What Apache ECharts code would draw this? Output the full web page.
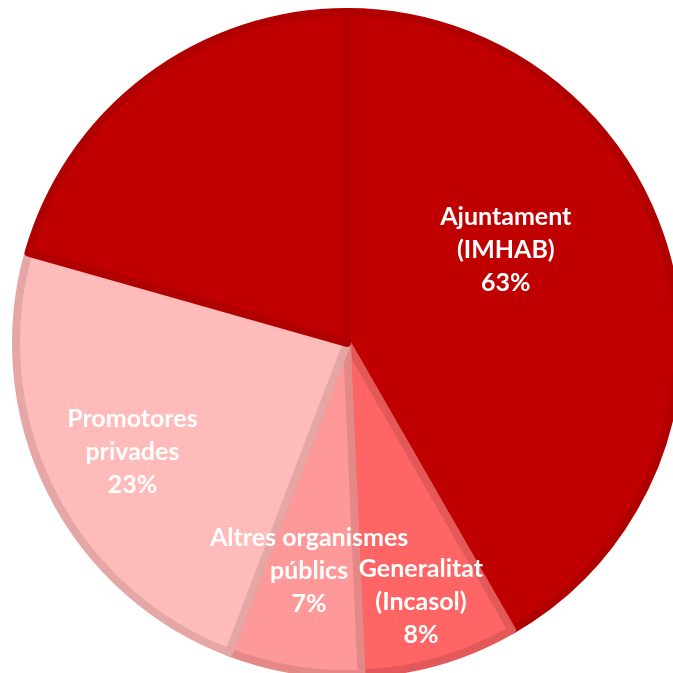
<!DOCTYPE html>
<html>
<head>
<meta charset="utf-8">
<script src="https://cdn.jsdelivr.net/npm/echarts@6/dist/echarts.min.js"></script>
<style>
  html, body { margin: 0; padding: 0; background: #fff; }
</style>
</head>
<body>
<div id="main" style="width:673px;height:673px;"></div>
<script>
// categories, clockwise from 12 o'clock (last one is the rest of Ajuntament, unlabelled)
var categories = ['Ajuntament\n(IMHAB)', 'Generalitat\n(Incasol)', 'Altres organismes\npúblics', 'Promotores\nprivades', ''];
// slice sizes
var values = [41.7, 7.6, 6.5, 23.6, 20.6];
// percentages printed on the labels
var shares = [63, 8, 7, 23, null];

var fills   = ['#c00000', '#ff6565', '#ff9999', '#ffbaba', '#c00000'];
var borders = ['#b00000', '#e35858', '#e48888', '#e5a6a6', '#b00000'];
// label nudges, so the text sits where it is in the picture
var offsets = [[-4, -50], [27, 97], [-11, 62], [-64, 33], [0, 0]];

var myChart = echarts.init(document.getElementById('main'));

var data = [];
values.forEach(function (v, i) {
    data.push({
        name: categories[i],
        value: v,
        itemStyle: { color: fills[i], borderColor: borders[i] },
        label: { show: shares[i] != null, offset: offsets[i] }
    });
});

var option = {
    animation: false,
    series: [{
        type: 'pie',
        center: [347, 343],
        radius: 331,
        startAngle: 90,
        clockwise: true,
        avoidLabelOverlap: false,
        itemStyle: { borderWidth: 8 },
        label: {
            position: 'inside',
            color: '#fff',
            fontFamily: 'Lato',
            fontWeight: 'bold',
            fontSize: 25,
            lineHeight: 33,
            formatter: function (p) {
                return p.name + '\n' + shares[p.dataIndex] + '%';
            }
        },
        labelLayout: { hideOverlap: false },
        labelLine: { show: false },
        emphasis: { disabled: true },
        data: data
    }]
};
myChart.setOption(option);
window.onresize = myChart.resize;
</script>
</body>
</html>
